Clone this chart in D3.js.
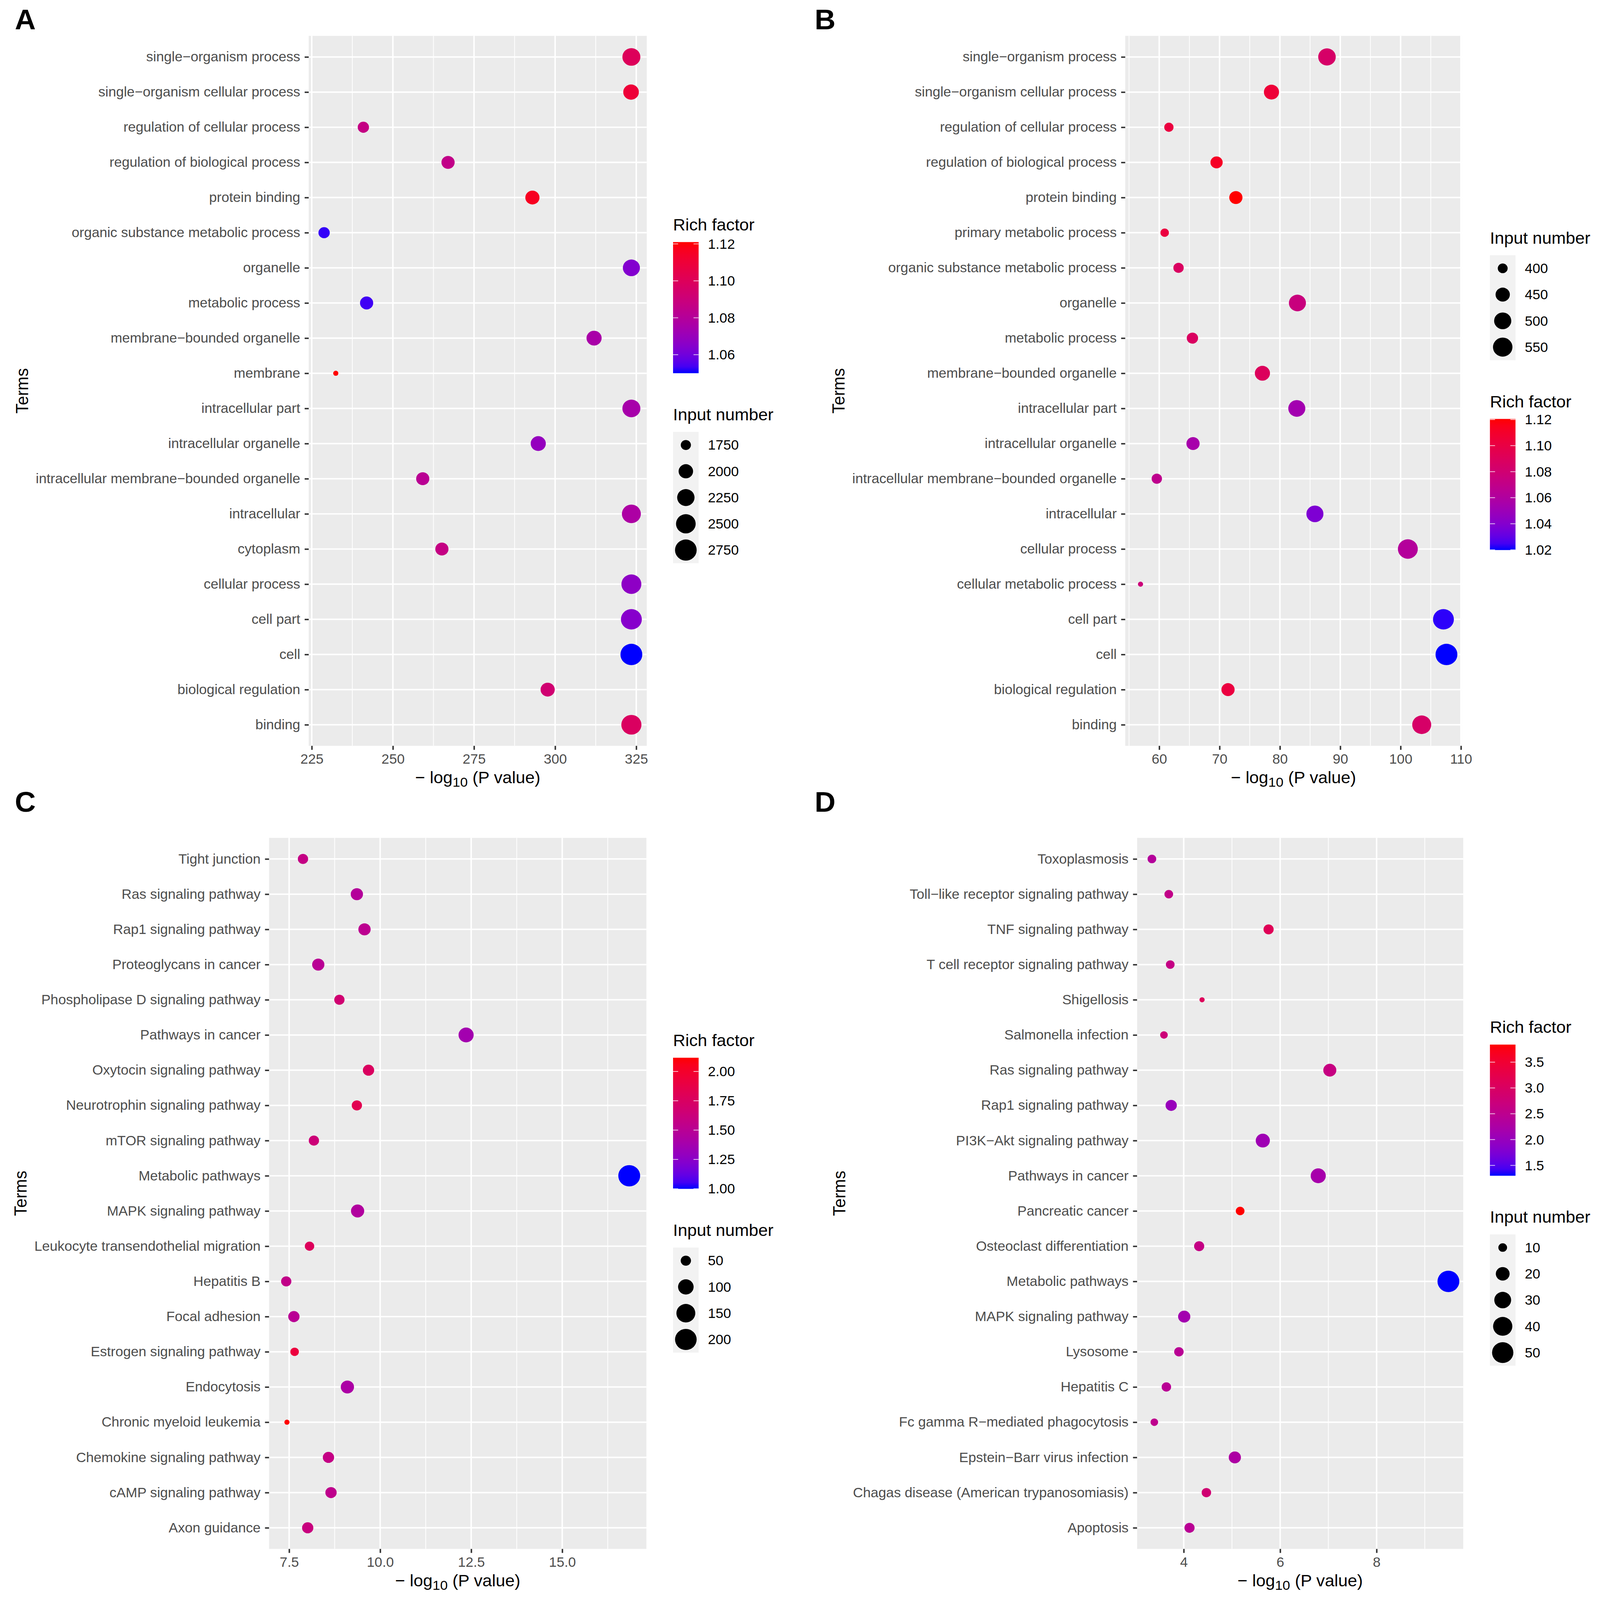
<!DOCTYPE html>
<html>
<head>
<meta charset="utf-8">
<script src="https://d3js.org/d3.v7.min.js"></script>
<style>
  html, body { margin: 0; padding: 0; background: #fff; overflow: hidden; }
  svg { display: block; width: 100vw; height: 100vh; }
  text { font-family: "Liberation Sans", Arial, Helvetica, sans-serif; }
</style>
</head>
<body>
<svg id="fig"></svg>
<script>

// panel A
let termsA = ['single−organism process', 'single−organism cellular process', 'regulation of cellular process',
  'regulation of biological process', 'protein binding', 'organic substance metabolic process', 'organelle',
  'metabolic process', 'membrane−bounded organelle', 'membrane', 'intracellular part', 'intracellular organelle',
  'intracellular membrane−bounded organelle', 'intracellular', 'cytoplasm', 'cellular process', 'cell part',
  'cell', 'biological regulation', 'binding']
let pvalA = [323.5, 323.4, 240.9, 267.0, 293.0, 228.8, 323.5, 241.9, 312.0, 232.4,
  323.5, 294.8, 259.2, 323.5, 265.1, 323.5, 323.5, 323.5, 297.7, 323.5]
let inputA = [2320, 2093, 1802, 1912, 1979, 1802, 2223, 1912, 2053, 1650,
  2320, 2053, 1912, 2424, 1912, 2535, 2653, 2780, 1979, 2560]
let richA = [1.100, 1.110, 1.087, 1.0855, 1.116, 1.052, 1.064, 1.053, 1.0756, 1.121,
  1.075, 1.069, 1.082, 1.077, 1.087, 1.067, 1.065, 1.050, 1.0926, 1.098]
let xTicksA = [225, 250, 275, 300, 325]
let richBreaksA = [1.06, 1.08, 1.10, 1.12]
let sizeBreaksA = [1750, 2000, 2250, 2500, 2750]

// panel B
let termsB = ['single−organism process', 'single−organism cellular process', 'regulation of cellular process',
  'regulation of biological process', 'protein binding', 'primary metabolic process',
  'organic substance metabolic process', 'organelle', 'metabolic process', 'membrane−bounded organelle',
  'intracellular part', 'intracellular organelle', 'intracellular membrane−bounded organelle', 'intracellular',
  'cellular process', 'cellular metabolic process', 'cell part', 'cell', 'biological regulation', 'binding']
let pvalB = [87.8, 78.6, 61.6, 69.5, 72.7, 60.9, 63.2, 82.9, 65.5, 77.1,
  82.8, 65.6, 59.6, 85.8, 101.2, 56.9, 107.1, 107.6, 71.4, 103.5]
let inputB = [508, 464, 396, 423, 435, 391, 404, 498, 413, 464,
  498, 435, 404, 498, 561, 382, 585, 611, 435, 539]
let richB = [1.085, 1.105, 1.102, 1.112, 1.1205, 1.102, 1.088, 1.075, 1.088, 1.090,
  1.053, 1.055, 1.068, 1.038, 1.062, 1.077, 1.022, 1.0198, 1.102, 1.085]
let xTicksB = [60, 70, 80, 90, 100, 110]
let richBreaksB = [1.02, 1.04, 1.06, 1.08, 1.10, 1.12]
let sizeBreaksB = [400, 450, 500, 550]

// panel C
let termsC = ['Tight junction', 'Ras signaling pathway', 'Rap1 signaling pathway', 'Proteoglycans in cancer',
  'Phospholipase D signaling pathway', 'Pathways in cancer', 'Oxytocin signaling pathway',
  'Neurotrophin signaling pathway', 'mTOR signaling pathway', 'Metabolic pathways', 'MAPK signaling pathway',
  'Leukocyte transendothelial migration', 'Hepatitis B', 'Focal adhesion', 'Estrogen signaling pathway',
  'Endocytosis', 'Chronic myeloid leukemia', 'Chemokine signaling pathway', 'cAMP signaling pathway',
  'Axon guidance']
let pvalC = [7.88, 9.36, 9.57, 8.30, 8.88, 12.36, 9.68, 9.36, 8.18, 16.84,
  9.38, 8.06, 7.42, 7.63, 7.65, 9.10, 7.44, 8.58, 8.65, 8.01]
let inputC = [50, 65, 65, 65, 50, 95, 57, 50, 50, 205, 74, 45, 50, 57, 41, 74, 34, 57, 57, 57]
let richC = [1.58, 1.47, 1.52, 1.50, 1.67, 1.37, 1.76, 1.83, 1.64, 0.999,
  1.45, 1.78, 1.56, 1.50, 1.92, 1.42, 2.117, 1.58, 1.54, 1.61]
let xTicksC = [7.5, 10, 12.5, 15]
let richBreaksC = [1.00, 1.25, 1.50, 1.75, 2.00]
let sizeBreaksC = [50, 100, 150, 200]

// panel D
let termsD = ['Toxoplasmosis', 'Toll−like receptor signaling pathway', 'TNF signaling pathway',
  'T cell receptor signaling pathway', 'Shigellosis', 'Salmonella infection', 'Ras signaling pathway',
  'Rap1 signaling pathway', 'PI3K−Akt signaling pathway', 'Pathways in cancer', 'Pancreatic cancer',
  'Osteoclast differentiation', 'Metabolic pathways', 'MAPK signaling pathway', 'Lysosome', 'Hepatitis C',
  'Fc gamma R−mediated phagocytosis', 'Epstein−Barr virus infection',
  'Chagas disease (American trypanosomiasis)', 'Apoptosis']
let pvalD = [3.34, 3.69, 5.76, 3.72, 4.38, 3.59, 7.03, 3.74, 5.64, 6.79,
  5.17, 4.32, 9.49, 4.01, 3.90, 3.64, 3.39, 5.06, 4.47, 4.12]
let inputD = [10, 10, 12, 10, 8, 9, 18, 14, 21, 24, 10, 12, 53, 16, 11, 11, 9, 16, 11, 12]
let richD = [2.37, 2.57, 3.13, 2.62, 3.08, 2.75, 2.65, 2.01, 2.09, 2.19,
  3.84, 2.62, 1.30, 2.14, 2.44, 2.44, 2.52, 2.27, 2.82, 2.44]
let xTicksD = [4, 6, 8]
let richBreaksD = [1.5, 2.0, 2.5, 3.0, 3.5]
let sizeBreaksD = [10, 20, 30, 40, 50]

// ---- canvas and layout ----
let width = 4317
let height = 4417
let dotMin = 14, dotMax = 59          // diameters of smallest / largest bubble
let axisFont = 37.5, titleFont = 46
let barW = 69, barH = 362, keyH = 72.5
let titleAsc = 33, gapTitle = 32, gapLegend = 97

let panels = [
  { label: 'A', terms: termsA, pval: pvalA, input: inputA, rich: richA, xTicks: xTicksA, xFmt: 'd',
    richBreaks: richBreaksA, richFmt: '.2f', sizeBreaks: sizeBreaksA, order: ['color', 'size'],
    box: { x0: 833, x1: 1745, y0: 99, y1: 2059 }, legendX: 1816, tag: [40, 81] },
  { label: 'B', terms: termsB, pval: pvalB, input: inputB, rich: richB, xTicks: xTicksB, xFmt: 'd',
    richBreaks: richBreaksB, richFmt: '.2f', sizeBreaks: sizeBreaksB, order: ['size', 'color'],
    box: { x0: 3036, x1: 3944, y0: 99, y1: 2059 }, legendX: 4020, tag: [2198, 81] },
  { label: 'C', terms: termsC, pval: pvalC, input: inputC, rich: richC, xTicks: xTicksC, xFmt: '.1f',
    richBreaks: richBreaksC, richFmt: '.2f', sizeBreaks: sizeBreaksC, order: ['color', 'size'],
    box: { x0: 726, x1: 1744, y0: 2313, y1: 4276 }, legendX: 1816, tag: [40, 2241] },
  { label: 'D', terms: termsD, pval: pvalD, input: inputD, rich: richD, xTicks: xTicksD, xFmt: 'd',
    richBreaks: richBreaksD, richFmt: '.1f', sizeBreaks: sizeBreaksD, order: ['color', 'size'],
    box: { x0: 3068, x1: 3948, y0: 2313, y1: 4276 }, legendX: 4020, tag: [2198, 2241] }
]

// the svg keeps the 4317x4417 drawing space and scales to whatever the window is
let svg = d3.select('#fig')
  .attr('viewBox', `0 0 ${width} ${height}`)
  .attr('preserveAspectRatio', 'none')
svg.append('rect').attr('width', width).attr('height', height).attr('fill', '#ffffff')
let defs = svg.append('defs')

let drawPanel = (p) => {
  let g = svg.append('g').attr('class', 'panel-' + p.label)
  let { x0, x1, y0, y1 } = p.box

  // scales (5% expansion on x like ggplot, 0.6 step padding on the discrete axis)
  let ext = d3.extent(p.pval)
  let pad = (ext[1] - ext[0]) * 0.05
  let xScale = d3.scaleLinear().domain([ext[0] - pad, ext[1] + pad]).range([x0, x1])
  let yScale = d3.scalePoint().domain(p.terms).range([y0, y1]).padding(0.6)
  let color = d3.scaleLinear().domain(d3.extent(p.rich)).range(['blue', 'red']).interpolate(d3.interpolateLab)
  let sizeT = d3.scaleLinear().domain(d3.extent(p.input)).range([0, 1])
  let radius = d3.scaleSqrt().domain([0, 1]).range([dotMin / 2, dotMax / 2])

  // panel background and grid
  g.append('rect').attr('x', x0).attr('y', y0).attr('width', x1 - x0).attr('height', y1 - y0).attr('fill', '#EBEBEB')

  let step = p.xTicks[1] - p.xTicks[0]
  let dom = xScale.domain()
  let minors = d3.range(p.xTicks.length + 1).map(i => p.xTicks[0] + (i - 0.5) * step)
    .filter(v => v > dom[0] && v < dom[1])
  g.selectAll('.minor').data(minors).enter().append('line')
    .attr('x1', d => xScale(d)).attr('x2', d => xScale(d)).attr('y1', y0).attr('y2', y1)
    .attr('stroke', '#ffffff').attr('stroke-width', 2)
  g.selectAll('.major-x').data(p.xTicks.filter(v => v >= dom[0] && v <= dom[1])).enter().append('line')
    .attr('x1', d => xScale(d)).attr('x2', d => xScale(d)).attr('y1', y0).attr('y2', y1)
    .attr('stroke', '#ffffff').attr('stroke-width', 4)
  g.selectAll('.major-y').data(p.terms).enter().append('line')
    .attr('x1', x0).attr('x2', x1).attr('y1', d => yScale(d)).attr('y2', d => yScale(d))
    .attr('stroke', '#ffffff').attr('stroke-width', 4)

  // bubbles
  g.selectAll('.dot').data(p.terms).enter().append('circle')
    .attr('cx', (d, i) => xScale(p.pval[i]))
    .attr('cy', d => yScale(d))
    .attr('r', (d, i) => radius(sizeT(p.input[i])))
    .attr('fill', (d, i) => color(p.rich[i]))

  // axes
  let yAxis = g.append('g').attr('transform', `translate(${x0},0)`)
    .call(d3.axisLeft(yScale).tickSize(11).tickPadding(12))
  let xAxis = g.append('g').attr('transform', `translate(0,${y1})`)
    .call(d3.axisBottom(xScale).tickValues(p.xTicks).tickFormat(d3.format(p.xFmt)).tickSize(11).tickPadding(11.5))
  ;[yAxis, xAxis].forEach(ax => {
    ax.select('.domain').remove()
    ax.attr('font-size', axisFont).attr('font-family', null)
    ax.selectAll('line').attr('stroke', '#333333').attr('stroke-width', 4)
    ax.selectAll('text').attr('fill', '#4D4D4D')
  })

  // axis titles
  let xt = g.append('text').attr('x', (x0 + x1) / 2).attr('y', y1 + 103)
    .attr('text-anchor', 'middle').attr('font-size', titleFont).attr('fill', '#000')
  xt.append('tspan').text('− log')
  xt.append('tspan').attr('font-size', titleFont * 0.8).attr('dy', 10).text('10')
  xt.append('tspan').attr('dy', -10).text(' (P value)')

  let labelLeft = x0 + yAxis.node().getBBox().x
  g.append('text')
    .attr('transform', `translate(${labelLeft - 21},${(y0 + y1) / 2}) rotate(-90)`)
    .attr('text-anchor', 'middle').attr('font-size', titleFont).attr('fill', '#000')
    .text('Terms')

  // legends, stacked and centred on the panel
  let lx = p.legendX
  let heights = {
    color: titleAsc + gapTitle + barH,
    size: titleAsc + gapTitle + keyH * p.sizeBreaks.length
  }
  let top = (y0 + y1) / 2 - (heights.color + heights.size + gapLegend) / 2

  p.order.forEach(kind => {
    g.append('text').attr('x', lx).attr('y', top + titleAsc)
      .attr('font-size', titleFont).attr('fill', '#000')
      .text(kind === 'color' ? 'Rich factor' : 'Input number')
    let bodyTop = top + titleAsc + gapTitle

    if (kind === 'color') {
      let gid = 'grad' + p.label
      let grad = defs.append('linearGradient').attr('id', gid)
        .attr('x1', 0).attr('y1', 1).attr('x2', 0).attr('y2', 0)
      let cd = color.domain()
      d3.range(21).forEach(i => {
        grad.append('stop').attr('offset', i / 20).attr('stop-color', color(cd[0] + (cd[1] - cd[0]) * i / 20))
      })
      g.append('rect').attr('x', lx).attr('y', bodyTop).attr('width', barW).attr('height', barH)
        .attr('fill', `url(#${gid})`)
      let cy = d3.scaleLinear().domain(cd).range([bodyTop + barH, bodyTop])
      p.richBreaks.forEach(b => {
        ;[[lx, lx + barW / 5], [lx + barW * 4 / 5, lx + barW]].forEach(([a, c]) => {
          g.append('line').attr('x1', a).attr('x2', c).attr('y1', cy(b)).attr('y2', cy(b))
            .attr('stroke', '#ffffff').attr('stroke-width', 2).attr('stroke-opacity', 0.8)
        })
        g.append('text').attr('x', lx + barW + 25).attr('y', cy(b)).attr('dy', '0.35em')
          .attr('font-size', axisFont).attr('fill', '#000').text(d3.format(p.richFmt)(b))
      })
      top = bodyTop + barH + gapLegend
    } else {
      g.append('rect').attr('x', lx).attr('y', bodyTop).attr('width', barW)
        .attr('height', keyH * p.sizeBreaks.length).attr('fill', '#F2F2F2')
      p.sizeBreaks.forEach((b, i) => {
        let cy = bodyTop + keyH * (i + 0.5)
        g.append('circle').attr('cx', lx + barW / 2).attr('cy', cy).attr('r', radius(sizeT(b))).attr('fill', '#000')
        g.append('text').attr('x', lx + barW + 25).attr('y', cy).attr('dy', '0.35em')
          .attr('font-size', axisFont).attr('fill', '#000').text(b)
      })
      top = bodyTop + keyH * p.sizeBreaks.length + gapLegend
    }
  })

  // panel tag
  svg.append('text').attr('x', p.tag[0]).attr('y', p.tag[1])
    .attr('font-size', 78).attr('font-weight', 'bold').attr('fill', '#000').text(p.label)
}

panels.forEach(drawPanel)
</script>
</body>
</html>
